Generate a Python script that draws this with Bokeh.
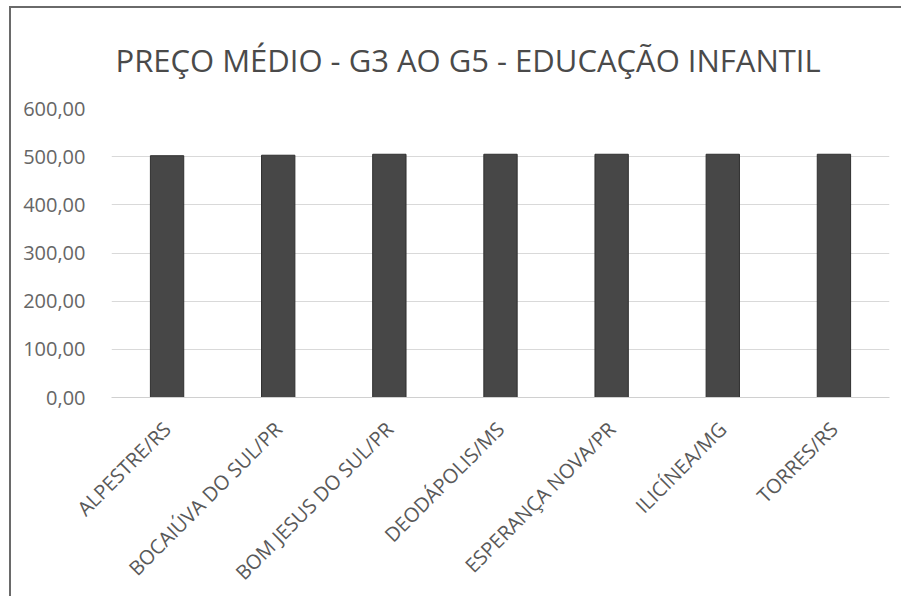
from bokeh.plotting import figure
from bokeh.models import FactorRange, Range1d, FixedTicker, CustomJSTickFormatter
from bokeh.embed import file_html
from bokeh.resources import INLINE
import math

cities = ["ALPESTRE/RS", "BOCAIÚVA DO SUL/PR", "BOM JESUS DO SUL/PR", "DEODÁPOLIS/MS",
          "ESPERANÇA NOVA/PR", "ILICÍNEA/MG", "TORRES/RS"]
prices = [502.0, 503.0, 505.0, 505.0, 505.0, 505.0, 505.0]
y_ticks = [0, 100, 200, 300, 400, 500, 600]
title_text = "PREÇO MÉDIO - G3 AO G5 - EDUCAÇÃO INFANTIL"

FONT = "Open Sans"

p = figure(x_range=FactorRange(*cities, range_padding=0), y_range=Range1d(0, 600),
           width=892, height=590, output_backend="svg", toolbar_location=None,
           min_border_left=100, min_border_right=14, min_border_top=100, min_border_bottom=190)
p.margin = (6, 0, 0, 9)

p.vbar(x=cities, top=prices, width=0.30, fill_color="#474747", line_color="#303030", line_width=1)

p.title.text = title_text
p.title.text_font = FONT
p.title.text_font_size = "31px"
p.title.text_font_style = "normal"
p.title.text_color = "#4a4a4a"
p.title.align = "left"
p.title.offset = 4
p.title.standoff = 55

p.outline_line_color = None
p.background_fill_color = "white"
p.border_fill_color = "white"
p.styles = {"border-left": "2px solid #6a6a6a", "border-top": "2px solid #6a6a6a"}

p.xgrid.grid_line_color = None
p.ygrid.grid_line_color = "#d9d9d9"
p.ygrid.grid_line_width = 1
p.yaxis.ticker = FixedTicker(ticks=y_ticks)
p.yaxis.formatter = CustomJSTickFormatter(code="return tick.toFixed(2).replace('.', ',');")
p.yaxis.axis_line_color = None
p.yaxis.major_tick_line_color = None
p.yaxis.minor_tick_line_color = None
p.yaxis.major_label_text_font = FONT
p.yaxis.major_label_text_font_size = "20px"
p.yaxis.major_label_text_color = "#666666"
p.yaxis.major_label_standoff = 20

p.xaxis.axis_line_color = "#d0d0d0"
p.xaxis.major_tick_line_color = None
p.xaxis.minor_tick_line_color = None
p.xaxis.major_label_orientation = math.pi / 4
p.xaxis.major_label_text_font = FONT
p.xaxis.major_label_text_font_size = "20px"
p.xaxis.major_label_text_color = "#595959"
p.xaxis.major_label_standoff = 22

open("out.html", "w").write(file_html(p, INLINE))
